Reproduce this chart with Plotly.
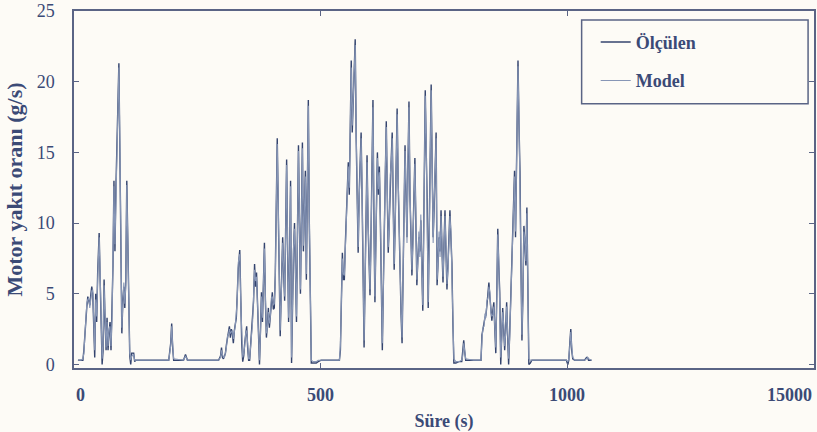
import plotly.graph_objects as go

# Time axis (s) shared by both fuel-rate series
T = [
    8, 14, 18, 20, 22, 24, 26, 28, 30, 32,
    34, 36, 38, 40, 42, 44, 46, 48, 50, 51,
    53, 55, 57, 59, 61, 63, 65, 67, 69, 71,
    73, 75, 77, 79, 81, 83, 85, 87, 89, 91,
    93, 95, 97, 99, 101, 103, 105, 107, 109, 111,
    113, 115, 117, 121, 123, 125,
    150, 180, 192, 196, 198, 200, 202, 222, 226, 230,
    260, 293, 297, 299, 301, 303, 305, 307, 309, 311,
    313, 315, 317, 319, 321, 323, 325, 327, 329, 331,
    333, 336, 338, 340, 342, 344, 346, 348, 350, 352,
    354, 356, 358, 360, 362, 364, 366, 368, 370, 372,
    374, 376, 378, 380, 382, 384, 386, 388, 390, 392,
    394, 396, 398, 400, 402, 404, 406, 408, 410, 412,
    414, 416, 418, 420, 423, 425, 427, 429, 431, 433,
    435, 437, 439, 441, 443, 445, 447, 449, 451, 453,
    455, 457, 459, 461, 463, 465, 467, 469, 471, 473,
    475, 477, 479, 481, 485, 491, 495, 501, 520, 538,
    540, 542, 544, 546, 548, 550, 552, 554, 556, 558,
    560, 562, 564, 566, 568, 570, 572, 574, 576, 578,
    580, 582, 584, 586, 588, 590, 592, 594, 596, 598,
    600, 602, 604, 606, 608, 610, 612, 615, 617, 619,
    621, 623, 625, 627, 629, 631, 633, 635, 637, 639,
    641, 643, 645, 647, 649, 651, 653, 655, 657, 659,
    661, 663, 665, 667, 669, 671, 673, 675, 677, 679,
    681, 683, 685, 687, 689, 691, 693, 695, 697, 699,
    701, 703, 705, 707, 709, 712, 714, 716, 718, 720,
    722, 724, 726, 728, 730, 732, 734, 736, 738, 740,
    742, 744, 746, 748, 750, 752, 754, 756, 758, 760,
    762, 764, 766, 768, 770,
    774, 780, 786, 788, 790, 792, 794, 810, 825, 827,
    829, 831, 833, 835, 837, 839, 841, 843, 845, 847,
    849, 851, 853, 855, 857, 859, 861, 863, 865, 867,
    869, 871, 873, 875, 877, 879, 881, 883, 885, 887,
    889, 891, 893, 895, 897, 900, 902, 904, 906, 908,
    910, 912, 914, 916, 918, 920, 922, 925, 928, 960,
    990, 998, 1001, 1003, 1005, 1007, 1009, 1011, 1015, 1025,
    1035, 1039, 1041, 1043, 1049,
]

# Measured engine fuel rate (g/s)
OLCULEN = [
    0.3, 0.3, 0.3, 1.0, 2.2, 3.5, 4.1, 4.8, 4.5, 4.2,
    4.9, 5.5, 5.0, 3.0, 0.5, 5.0, 3.0, 6.5, 8.2, 9.3,
    6.0, 2.5, 0.0, 1.0, 6.0, 3.0, 1.0, 3.3, 1.0, 2.2,
    3.0, 1.0, 3.5, 7.0, 13.0, 8.0, 12.5, 15.0, 18.5, 21.3,
    15.0, 10.0, 2.2, 4.5, 5.5, 4.0, 6.0, 13.0, 8.0, 2.0,
    0.6, 0.0, 0.8, 0.8, 0.2, 0.3,
    0.3, 0.3, 0.3, 1.5, 2.9, 1.2, 0.3, 0.3, 0.7, 0.3,
    0.3, 0.3, 0.6, 1.2, 0.5, 0.4, 0.6, 0.8, 1.4, 1.8,
    2.3, 2.7, 1.9, 2.5, 2.2, 1.5, 2.4, 3.0, 3.3, 5.0,
    6.8, 8.1, 4.0, 1.5, 0.2, 0.6, 1.5, 2.0, 2.7, 1.2,
    0.3, 0.3, 1.4, 2.2, 3.2, 4.5, 7.1, 5.5, 6.5, 4.0,
    1.8, 0.0, 2.4, 5.1, 3.0, 5.5, 8.6, 4.5, 1.9, 2.8,
    4.0, 2.6, 3.6, 4.4, 5.1, 3.9, 4.0, 6.3, 11.5, 16.0,
    11.0, 6.0, 2.0, 5.0, 9.0, 6.5, 4.5, 9.5, 14.5, 8.0,
    3.0, 7.5, 13.0, 0.1, 6.0, 8.0, 10.0, 6.0, 3.0, 9.5,
    15.5, 10.0, 5.0, 10.5, 15.7, 8.0, 11.0, 13.7, 6.0, 12.0,
    18.7, 10.0, 4.0, 0.1, 0.1, 0.1, 0.2, 0.3, 0.3, 0.3,
    1.0, 4.4, 7.9, 6.0, 6.0, 8.5, 10.4, 12.5, 14.3, 12.0,
    17.0, 21.5, 16.4, 19.0, 22.0, 23.0, 16.0, 11.0, 7.9, 12.0,
    14.0, 16.4, 11.8, 6.0, 1.2, 6.0, 11.0, 14.8, 10.0, 7.0,
    4.9, 9.0, 14.0, 18.7, 10.0, 4.4, 9.0, 15.0, 12.0, 14.0,
    10.2, 5.0, 1.0, 5.5, 10.0, 14.0, 17.2, 12.0, 7.9, 10.0,
    13.0, 14.5, 16.4, 11.0, 6.7, 10.0, 14.0, 18.1, 13.0, 9.0,
    6.0, 3.5, 1.5, 6.0, 11.0, 15.5, 12.0, 9.0, 14.0, 18.6,
    12.0, 8.5, 6.3, 9.0, 12.0, 14.6, 10.0, 5.6, 7.5, 9.0,
    8.0, 10.2, 7.0, 3.8, 10.0, 19.4, 15.0, 11.4, 4.0, 9.0,
    15.0, 19.8, 14.0, 9.0, 11.0, 13.5, 16.4, 5.6, 7.5, 9.0,
    8.0, 10.9, 8.0, 5.8, 8.5, 10.9, 8.0, 5.3, 7.0, 9.0,
    10.9, 9.0, 7.2, 3.0, 0.1,
    0.1, 0.2, 0.2, 0.8, 1.7, 0.9, 0.3, 0.3, 0.3, 2.1,
    2.4, 2.9, 3.3, 3.5, 4.2, 5.0, 5.8, 4.8, 4.0, 3.1,
    3.8, 4.4, 2.5, 0.8, 5.0, 9.6, 7.0, 5.1, 0.0, 2.0,
    4.0, 2.5, 1.0, 2.5, 4.4, 2.0, 0.0, 2.0, 4.4, 6.0,
    9.0, 11.0, 13.7, 9.0, 14.0, 21.5, 17.0, 13.7, 7.0, 1.7,
    5.0, 9.8, 8.5, 7.0, 11.1, 5.0, 0.0, 0.1, 0.3, 0.3,
    0.3, 0.3, 0.0, 0.3, 1.5, 2.5, 1.0, 0.4, 0.3, 0.3,
    0.3, 0.5, 0.5, 0.3, 0.3,
]

# Model-predicted engine fuel rate (g/s)
MODEL = [
    0.3, 0.3, 0.4, 0.8, 2.0, 3.2, 4.3, 4.6, 4.7, 4.0,
    4.6, 5.2, 5.3, 3.4, 1.0, 4.6, 3.4, 6.0, 8.6, 9.0,
    6.4, 2.8, 0.4, 1.3, 5.6, 3.4, 1.2, 3.0, 1.3, 2.5,
    2.7, 1.3, 3.2, 7.4, 12.6, 8.5, 12.0, 15.4, 18.0, 21.0,
    15.5, 9.5, 2.6, 4.2, 5.8, 4.3, 5.6, 12.7, 8.4, 2.3,
    0.8, 0.3, 0.6, 0.7, 0.3, 0.3,
    0.3, 0.3, 0.3, 1.3, 2.7, 1.4, 0.4, 0.3, 0.6, 0.3,
    0.3, 0.3, 0.5, 1.0, 0.7, 0.5, 0.5, 0.9, 1.2, 2.0,
    2.1, 2.5, 2.2, 2.3, 2.4, 1.8, 2.2, 2.8, 3.6, 4.7,
    7.2, 7.8, 4.4, 1.8, 0.5, 0.8, 1.3, 2.2, 2.4, 1.5,
    0.4, 0.4, 1.2, 2.4, 3.0, 4.8, 6.7, 5.9, 6.2, 4.3,
    2.1, 0.3, 2.2, 4.8, 3.3, 5.2, 8.2, 4.8, 2.2, 2.6,
    3.7, 2.9, 3.4, 4.7, 4.8, 4.2, 4.3, 6.0, 11.9, 15.6,
    11.4, 6.4, 2.4, 4.7, 8.6, 6.8, 4.8, 9.1, 14.1, 8.4,
    3.3, 7.2, 12.6, 0.5, 5.7, 8.3, 9.6, 6.3, 3.4, 9.2,
    15.1, 10.4, 5.3, 10.1, 15.3, 8.4, 10.7, 13.3, 6.4, 11.6,
    18.3, 10.4, 4.3, 0.3, 0.2, 0.2, 0.3, 0.3, 0.3, 0.3,
    1.3, 4.0, 7.5, 6.4, 6.3, 8.1, 10.8, 12.1, 14.0, 12.5,
    16.5, 21.0, 16.9, 18.6, 21.5, 22.6, 16.5, 11.5, 8.3, 11.6,
    14.4, 16.0, 12.2, 6.4, 1.7, 5.6, 11.4, 14.3, 10.4, 7.4,
    5.3, 8.6, 14.4, 18.2, 10.5, 4.8, 8.6, 14.6, 12.4, 13.6,
    10.6, 5.4, 1.5, 5.1, 10.4, 13.6, 16.8, 12.4, 8.3, 9.6,
    13.4, 14.1, 16.0, 11.4, 7.1, 9.6, 14.4, 17.7, 13.4, 9.4,
    6.4, 3.9, 1.9, 5.6, 11.4, 15.1, 12.4, 8.6, 14.4, 18.2,
    12.4, 8.1, 6.7, 8.6, 12.4, 14.2, 10.4, 6.0, 7.1, 9.4,
    7.6, 10.6, 6.6, 4.2, 9.6, 19.0, 15.4, 11.0, 4.4, 8.6,
    15.4, 19.4, 14.4, 8.6, 11.4, 13.1, 16.0, 6.0, 7.1, 9.4,
    7.6, 10.5, 8.4, 6.2, 8.1, 10.5, 8.4, 5.7, 6.6, 9.4,
    10.5, 9.4, 6.8, 3.4, 0.4,
    0.2, 0.2, 0.3, 0.6, 1.5, 1.0, 0.4, 0.3, 0.3, 1.8,
    2.6, 2.7, 3.6, 3.3, 4.5, 4.7, 5.5, 5.1, 3.7, 3.4,
    3.5, 4.1, 2.8, 1.2, 4.6, 9.2, 7.3, 4.8, 0.5, 1.8,
    3.7, 2.8, 1.3, 2.2, 4.1, 2.3, 0.4, 1.8, 4.1, 6.3,
    8.6, 11.4, 13.3, 9.4, 13.6, 21.1, 17.4, 13.3, 7.4, 2.1,
    4.7, 9.4, 8.8, 7.3, 10.7, 5.4, 0.4, 0.3, 0.3, 0.3,
    0.3, 0.3, 0.2, 0.4, 1.3, 2.3, 1.2, 0.5, 0.3, 0.3,
    0.3, 0.4, 0.5, 0.4, 0.3,
]

assert len(T) == len(OLCULEN) == len(MODEL)

X_TICKS = [0, 500, 1000, 1500]
X_TICK_TEXT = ["0", "500", "1000", "15000"]
Y_TICKS = [0, 5, 10, 15, 20, 25]

INK = "#3b4a76"
FRAME = "#5a6485"
BG = "#fdfbf6"
SERIF = "Liberation Serif"

fig = go.Figure()
fig.add_trace(go.Scatter(
    x=T, y=OLCULEN, mode="lines", name="<b>Ölçülen</b>", legendgroup="a",
    line=dict(color="#34446e", width=1.4),
))
fig.add_trace(go.Scatter(
    x=T, y=MODEL, mode="lines", name="<b>Model</b>", legendgroup="b",
    line=dict(color="#8796b6", width=1.1),
))

# x tick labels as text below the axis; the end labels are kept inside the frame
anchors = ["left", "center", "center", "right"]
for v, txt, anc in zip(X_TICKS, X_TICK_TEXT, anchors):
    fig.add_annotation(
        x=v, y=0, xref="x", yref="paper", text=f"<b>{txt}</b>",
        showarrow=False, xanchor=anc, yanchor="top", yshift=-15,
        font=dict(family=SERIF, size=18, color=INK),
    )

# legend frame, wider than the entries it encloses
fig.add_shape(
    type="rect", xref="paper", yref="paper",
    x0=0.686, x1=0.992, y0=0.740, y1=0.975,
    line=dict(color=FRAME, width=1.5), fillcolor="rgba(0,0,0,0)", layer="above",
)

fig.update_layout(
    width=817, height=432,
    margin=dict(l=74, r=1, t=3, b=64),
    paper_bgcolor=BG, plot_bgcolor=BG,
    showlegend=True,
    legend=dict(
        x=0.705, y=0.964, xanchor="left", yanchor="top",
        bgcolor="rgba(0,0,0,0)", borderwidth=0,
        font=dict(family=SERIF, size=18, color=INK),
        tracegroupgap=12,
    ),
    xaxis=dict(
        range=[0, 1500], tickvals=X_TICKS, showticklabels=False,
        ticks="inside", ticklen=5, tickcolor=FRAME,
        showline=True, linecolor=FRAME, linewidth=1.5, mirror="ticks",
        showgrid=False, zeroline=False,
        title=dict(text="<b>Süre (s)</b>", standoff=46,
                   font=dict(family=SERIF, size=18, color=INK)),
    ),
    yaxis=dict(
        range=[-0.25, 25], tickvals=Y_TICKS,
        ticks="inside", ticklen=5, tickcolor=FRAME,
        showline=True, linecolor=FRAME, linewidth=1.5, mirror="ticks",
        showgrid=False, zeroline=False,
        tickfont=dict(family=SERIF, size=18, color=INK),
        ticklabelstandoff=14, ticklabeloverflow="allow",
        title=dict(text="<b>Motor yakıt oranı (g/s)</b>", standoff=8,
                   font=dict(family=SERIF, size=22, color=INK)),
    ),
)

fig.write_html("out.html")
